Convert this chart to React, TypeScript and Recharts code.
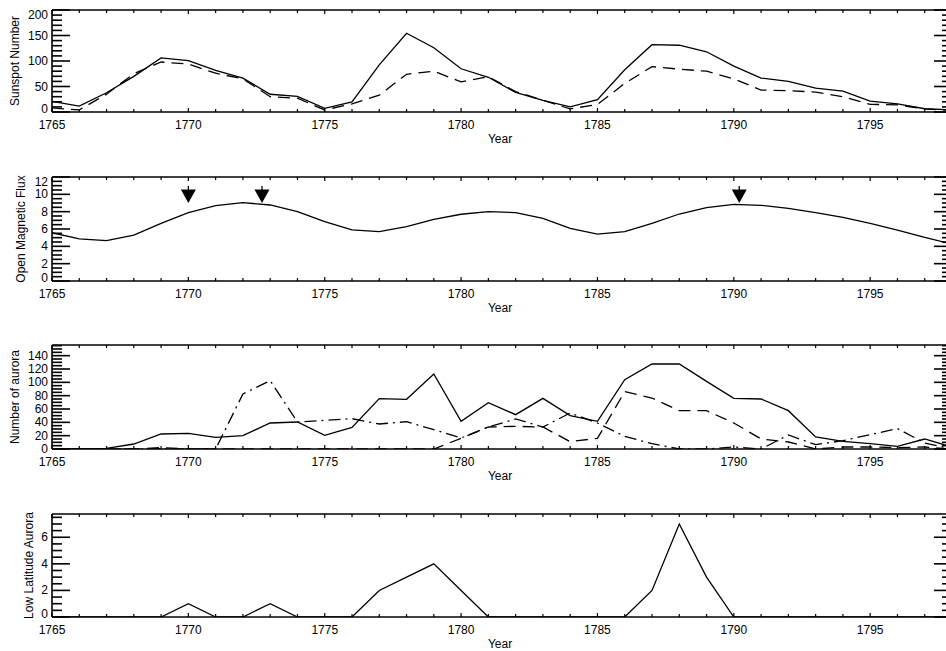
import { ComposedChart, Line, XAxis, YAxis, ReferenceDot } from "recharts";

const years = [
  1765, 1766, 1767, 1768, 1769, 1770, 1771, 1772, 1773, 1774, 1775, 1776,
  1777, 1778, 1779, 1780, 1781, 1782, 1783, 1784, 1785, 1786, 1787, 1788,
  1789, 1790, 1791, 1792, 1793, 1794, 1795, 1796, 1797, 1798,
];
const xLabelTicks = [1765, 1770, 1775, 1780, 1785, 1790, 1795];

// panel 1: sunspot number (solid) and group sunspot number (dashed)
const sunspotNumber = [
  20.9, 11.4, 37.8, 69.8, 106.1, 100.8, 81.6, 66.5, 34.8, 30.6, 7.0, 19.8,
  92.5, 154.4, 125.9, 84.8, 68.1, 38.5, 22.8, 10.2, 24.1, 82.9, 132.0, 130.9,
  118.1, 89.9, 66.6, 60.0, 46.9, 41.0, 21.3, 16.0, 6.4, 4.1,
];
const groupSunspot = [
  8, 4, 35, 75, 98, 94, 76, 65, 30, 27, 4, 16, 33, 74, 80, 59, 69, 40, 23, 6,
  15, 56, 89, 84, 80, 65, 43, 42, 39, 30, 15, 14, 6, 3,
];

// panel 2: open magnetic flux + marked years
const openFlux = [
  5.57, 4.85, 4.65, 5.3, 6.65, 7.9, 8.7, 9.05, 8.77, 8.0, 6.85, 5.9, 5.7, 6.27,
  7.1, 7.7, 8.0, 7.9, 7.23, 6.08, 5.42, 5.7, 6.65, 7.73, 8.46, 8.85, 8.73,
  8.38, 7.88, 7.35, 6.65, 5.88, 5.04, 4.25,
];
const arrowYears = [1770, 1772.7, 1790.2];
const arrowLevel = 9.0;

// panel 3: number of aurora, three records
const auroraSolid = [
  0, 0, 1, 7.5, 22.5, 23.5, 17.5, 20, 39, 40.5, 20.5, 32.5, 75.5, 74.5, 112.5,
  41.5, 69.5, 51.5, 76, 50, 41.5, 104, 127.5, 127.5, 101.5, 76, 75, 57.5, 18,
  11.5, 8, 4, 15, 3,
];
const auroraDashed = [
  0, 0, 0, 0, 2, 0, 0, 0, 0, 0, 0, 0, 0, 0, 0, 16, 33, 34, 33, 11, 16, 86,
  76.5, 57.5, 57.5, 39, 15, 10.5, 0, 3, 3, 2, 3, 0,
];
const auroraDashDot = [
  0, 0, 0, 0, 0, 0, 0, 82.5, 102.5, 40.5, 43, 45.5, 37.5, 41, 29, 16.5, 33,
  45, 33, 54, 39, 19, 8, 0, 0, 3, 0, 21, 6.5, 12.5, 21.5, 30.5, 9, 0,
];

// panel 4: low latitude aurora
const lowLatAurora = [
  0, 0, 0, 0, 0, 1, 0, 0, 1, 0, 0, 0, 2, 3, 4, 2, 0, 0, 0, 0, 0, 0, 2, 7, 3,
  0, 0, 0, 0, 0, 0, 0, 0, 0,
];

const rows = years.map((year, i) => ({
  year,
  ssn: sunspotNumber[i],
  gsn: groupSunspot[i],
  flux: openFlux[i],
  aSolid: auroraSolid[i],
  aDashed: auroraDashed[i],
  aDashDot: auroraDashDot[i],
  lowLat: lowLatAurora[i],
}));

const steps = (from: number, to: number, step: number) => {
  const out: number[] = [];
  for (let v = from; v <= to + 1e-9; v += step) out.push(Math.round(v * 100) / 100);
  return out;
};

const FONT = '"Liberation Sans", Arial, sans-serif';
const AXIS = { stroke: "#000", strokeWidth: 1.6 };
const LINE_W = 1.3;
const DASH = "12 7";
const DASH_DOT = "12 5 2 5";

const xTick = (side: "top" | "bottom") => (p: any) => {
  const v = p.payload.value;
  const major = xLabelTicks.includes(v);
  const dir = side === "bottom" ? -1 : 1;
  return (
    <g>
      <line x1={p.x} x2={p.x} y1={p.y} y2={p.y + dir * (major ? 4 : 3)} stroke="#000" strokeWidth={1.2} />
      {side === "bottom" && major && (
        <text x={p.x} y={p.y + 13} textAnchor="middle" dominantBaseline="central" fontFamily={FONT} fontSize={12} fill="#000">
          {v}
        </text>
      )}
    </g>
  );
};

const yTick =
  (side: "left" | "right", majors: number[], yMax: number, zeroShift: number) => (p: any) => {
    const v = p.payload.value;
    const major = majors.includes(v);
    const dir = side === "left" ? 1 : -1;
    let dy = 0;
    if (v === yMax) dy = 5;
    if (v === 0) dy = zeroShift;
    return (
      <g>
        <line x1={p.x} x2={p.x + dir * (major ? 18 : 10)} y1={p.y} y2={p.y} stroke="#000" strokeWidth={1.6} />
        {side === "left" && major && (
          <text x={p.x - 4} y={p.y + dy} textAnchor="end" dominantBaseline="central" fontFamily={FONT} fontSize={12} fill="#000">
            {v}
          </text>
        )}
      </g>
    );
  };

const yTitle = (title: string, x: number) => (props: any) => {
  const vb = props.viewBox;
  const cy = vb.y + vb.height / 2;
  return (
    <text x={x} y={cy} transform={`rotate(-90 ${x} ${cy})`} textAnchor="middle" dominantBaseline="central" fontFamily={FONT} fontSize={12} fill="#000">
      {title}
    </text>
  );
};

const yearLabel = (props: any) => {
  const vb = props.viewBox;
  return (
    <text x={vb.x + vb.width / 2 - 2} y={vb.y + 27} textAnchor="middle" dominantBaseline="central" fontFamily={FONT} fontSize={12} fill="#000">
      Year
    </text>
  );
};

const arrowShape = (p: any) => {
  const { cx, cy } = p;
  return (
    <g>
      <line x1={cx} x2={cx} y1={cy - 17} y2={cy - 13} stroke="#000" strokeWidth={1.3} />
      <path d={`M${cx - 7.5},${cy - 13.5} L${cx + 7.5},${cy - 13.5} L${cx},${cy} Z`} fill="#000" />
    </g>
  );
};

function Panel({
  plotTop,
  plotHeight,
  yMax,
  yMajor,
  yMinor,
  title,
  titleX,
  zeroShift = -3.5,
  children,
}: {
  plotTop: number;
  plotHeight: number;
  yMax: number;
  yMajor: number[];
  yMinor: number[];
  title: string;
  titleX: number;
  zeroShift?: number;
  children: any;
}) {
  return (
    <div style={{ position: "absolute", left: 0, top: plotTop - 2 }}>
      <ComposedChart width={953} height={plotHeight + 42} data={rows} margin={{ top: 1, right: 0, bottom: 0, left: 0 }}>
        <XAxis
          xAxisId="bottom"
          type="number"
          dataKey="year"
          domain={[1765, 1798]}
          ticks={years}
          interval={0}
          tickSize={0}
          tickMargin={0}
          height={40}
          axisLine={AXIS}
          tickLine={false}
          tick={xTick("bottom")}
          label={yearLabel}
          allowDataOverflow
        />
        <XAxis
          xAxisId="top"
          orientation="top"
          type="number"
          dataKey="year"
          domain={[1765, 1798]}
          ticks={years}
          interval={0}
          tickSize={0}
          tickMargin={0}
          height={1}
          axisLine={AXIS}
          tickLine={false}
          tick={xTick("top")}
          allowDataOverflow
        />
        <YAxis
          yAxisId="left"
          type="number"
          domain={[0, yMax]}
          ticks={yMinor}
          interval={0}
          width={52}
          tickSize={0}
          tickMargin={0}
          axisLine={AXIS}
          tickLine={false}
          tick={yTick("left", yMajor, yMax, zeroShift)}
          label={yTitle(title, titleX)}
          allowDataOverflow
        />
        <YAxis
          yAxisId="right"
          orientation="right"
          type="number"
          domain={[0, yMax]}
          ticks={yMinor}
          interval={0}
          width={1}
          tickSize={0}
          tickMargin={0}
          axisLine={AXIS}
          tickLine={false}
          tick={yTick("right", yMajor, yMax, zeroShift)}
          allowDataOverflow
        />
        {children}
      </ComposedChart>
    </div>
  );
}

const series = (key: string, dash?: string) => (
  <Line
    key={key}
    xAxisId="bottom"
    yAxisId="left"
    type="linear"
    dataKey={key}
    stroke="#000"
    strokeWidth={LINE_W}
    strokeDasharray={dash}
    dot={false}
    activeDot={false}
    isAnimationActive={false}
  />
);

export default function App() {
  return (
    <div style={{ position: "absolute", left: 0, top: 0, width: 946, height: 651, overflow: "hidden", background: "#fff" }}>
      <Panel plotTop={10} plotHeight={102} yMax={200} yMajor={[0, 50, 100, 150, 200]} yMinor={steps(0, 200, 10)} title="Sunspot Number" titleX={15}>
        {[series("ssn"), series("gsn", DASH)]}
      </Panel>
      <Panel plotTop={177} plotHeight={104} yMax={12} yMajor={[0, 2, 4, 6, 8, 10, 12]} yMinor={steps(0, 12, 0.5)} title="Open Magnetic Flux" titleX={21}>
        {[
          series("flux"),
          ...arrowYears.map((yr) => (
            <ReferenceDot
              key={`arrow-${yr}`}
              xAxisId="bottom"
              yAxisId="left"
              x={yr}
              y={arrowLevel}
              r={0}
              ifOverflow="visible"
              shape={arrowShape}
            />
          )),
        ]}
      </Panel>
      <Panel
        plotTop={345}
        plotHeight={104}
        yMax={156}
        yMajor={[0, 20, 40, 60, 80, 100, 120, 140]}
        yMinor={steps(0, 155, 5)}
        title="Number of aurora"
        titleX={15}
        zeroShift={0}
      >
        {[series("aSolid"), series("aDashed", DASH), series("aDashDot", DASH_DOT)]}
      </Panel>
      <Panel plotTop={514} plotHeight={103} yMax={7.75} yMajor={[0, 2, 4, 6]} yMinor={steps(0, 7.5, 0.5)} title="Low Latitude Aurora" titleX={29}>
        {[series("lowLat")]}
      </Panel>
    </div>
  );
}
